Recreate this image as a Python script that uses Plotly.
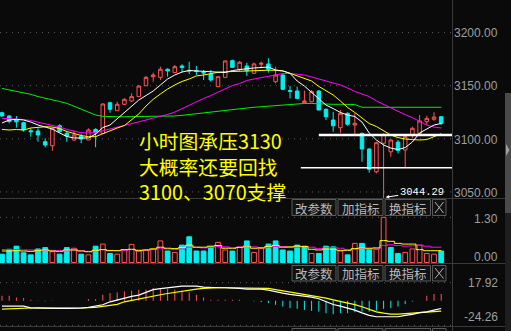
import plotly.graph_objects as go

W, H = 511, 331
BG = "#0a0a0a"
RED = "#ff5454"
CYAN = "#00f0f0"
GRID = "#5e5e5e"
SEP = "#3a3a3a"
LABEL = "#9e9e9e"

# ---------------- data ----------------
opens = [3124.6, 3121.5, 3118.2, 3115.2, 3107.6, 3107.3, 3097.3, 3093.5, 3112.3, 3105.2,
         3098.9, 3102.6, 3098.9, 3108.9, 3105.2, 3134.0, 3126.5, 3132.5, 3135.6, 3139.7,
         3150.0, 3158.5, 3157.9, 3165.5, 3162.3, 3168.6, 3164.5, 3164.1, 3162.6, 3161.0,
         3149.1, 3157.9, 3173.6, 3165.5, 3168.6, 3161.7, 3170.2, 3170.5, 3153.8, 3160.1,
         3145.5, 3145.0, 3134.0, 3134.9, 3145.0, 3127.8, 3117.7, 3110.5, 3124.0, 3113.0,
         3105.2, 3090.4, 3069.0, 3095.8, 3087.8, 3096.9, 3089.5, 3103.6, 3105.2, 3116.1,
         3118.4, 3120.8]
highs = [3125.5, 3122.4, 3121.5, 3116.1, 3109.9, 3109.9, 3100.5, 3110.5, 3113.7, 3107.6,
         3107.6, 3104.5, 3109.9, 3109.9, 3133.4, 3134.9, 3134.9, 3138.1, 3142.9, 3150.7,
         3159.2, 3162.3, 3167.9, 3166.4, 3169.5, 3170.2, 3172.6, 3168.6, 3164.8, 3164.8,
         3158.9, 3173.6, 3174.5, 3173.3, 3171.7, 3171.7, 3172.6, 3175.8, 3167.9, 3161.0,
         3149.7, 3149.1, 3145.3, 3146.0, 3146.0, 3128.7, 3125.5, 3127.1, 3125.0, 3124.0,
         3105.7, 3091.1, 3097.3, 3105.2, 3099.5, 3098.9, 3103.6, 3111.4, 3122.4, 3121.8,
         3125.0, 3121.5]
lows = [3120.8, 3114.6, 3110.5, 3106.7, 3102.0, 3097.3, 3092.0, 3088.8, 3105.7, 3097.3,
        3098.2, 3095.8, 3098.9, 3092.0, 3104.5, 3124.6, 3126.5, 3131.8, 3134.9, 3139.7,
        3149.7, 3153.8, 3155.4, 3158.5, 3162.0, 3162.6, 3161.0, 3160.1, 3155.4, 3153.8,
        3148.6, 3157.9, 3167.0, 3163.9, 3159.2, 3161.0, 3166.4, 3162.3, 3152.3, 3146.0,
        3138.1, 3137.2, 3133.4, 3134.4, 3127.1, 3117.7, 3106.7, 3105.7, 3112.3, 3103.6,
        3078.4, 3068.1, 3067.5, 3044.29, 3083.1, 3086.3, 3073.2, 3100.5, 3103.6, 3113.0,
        3117.0, 3113.0]
closes = [3121.5, 3116.4, 3116.0, 3108.3, 3106.7, 3103.6, 3094.2, 3109.9, 3106.7, 3102.6,
          3103.6, 3099.8, 3108.3, 3105.7, 3132.8, 3127.8, 3132.5, 3137.2, 3139.7, 3149.7,
          3157.9, 3160.1, 3165.5, 3163.9, 3167.9, 3167.2, 3163.9, 3163.4, 3162.0, 3155.4,
          3158.5, 3173.3, 3167.3, 3172.1, 3164.1, 3170.5, 3171.1, 3165.5, 3160.1, 3146.6,
          3144.7, 3138.1, 3135.6, 3144.4, 3127.1, 3120.8, 3112.3, 3124.0, 3113.7, 3114.6,
          3090.4, 3071.3, 3096.3, 3104.2, 3098.9, 3089.1, 3102.0, 3109.9, 3116.8, 3119.3,
          3120.5, 3114.6]

ma_white = [3114.9, 3117.7, 3118.4, 3117.7, 3115.8, 3113.0, 3111.1, 3109.2, 3105.5, 3102.2,
            3100.8, 3100.5, 3100.8, 3104.5, 3110.6, 3113.0, 3118.7, 3124.3, 3130.0, 3136.5,
            3140.8, 3145.0, 3150.7, 3156.3, 3160.1, 3162.9, 3164.3, 3163.9, 3163.6, 3162.9,
            3162.2, 3162.4, 3164.3, 3165.5, 3166.0, 3166.7, 3167.2, 3167.6, 3164.8, 3163.9,
            3161.7, 3154.4, 3149.7, 3143.6, 3137.5, 3131.8, 3128.5, 3124.8, 3122.4, 3121.0,
            3115.8, 3105.5, 3098.9, 3094.2, 3091.3, 3089.9, 3091.8, 3097.0, 3105.5, 3109.2,
            3113.0, 3114.4]
ma_yellow = [3108.9, 3108.3, 3108.8, 3108.3, 3110.2, 3111.1, 3111.4, 3111.1, 3109.7, 3106.9,
             3105.0, 3103.1, 3102.0, 3102.0, 3104.8, 3107.8, 3110.2, 3112.5, 3117.7, 3123.4,
             3130.9, 3137.2, 3142.2, 3146.9, 3150.7, 3154.0, 3156.3, 3159.2, 3160.1, 3161.5,
             3162.6, 3163.1, 3163.4, 3163.9, 3164.1, 3164.5, 3164.6, 3164.6, 3164.5, 3163.9,
             3161.7, 3159.2, 3157.3, 3154.4, 3149.3, 3145.5, 3141.3, 3135.6, 3129.5, 3124.8,
             3119.6, 3114.4, 3111.6, 3107.3, 3103.6, 3101.2, 3099.8, 3099.3, 3098.9, 3099.3,
             3101.7, 3104.8]
ma_magenta = [3119.3, 3119.1, 3118.7, 3118.2, 3117.2, 3115.8, 3114.4, 3113.0, 3111.1, 3108.9,
              3107.3, 3105.7, 3105.7, 3105.7, 3107.6, 3109.2, 3110.6, 3112.5, 3113.9, 3115.8,
              3117.7, 3119.6, 3121.0, 3122.9, 3125.2, 3128.5, 3131.8, 3135.1, 3138.0, 3140.8,
              3144.1, 3146.9, 3150.2, 3152.1, 3154.9, 3156.3, 3157.7, 3159.2, 3160.1, 3161.5,
              3161.5, 3161.0, 3160.1, 3158.2, 3156.3, 3154.9, 3153.0, 3150.7, 3147.8, 3144.6,
              3142.2, 3139.8, 3135.6, 3132.3, 3129.0, 3126.0, 3122.7, 3119.9, 3116.2, 3113.0,
              3111.1, 3110.2]
ma_green = [3147.4, 3146.2, 3145.0, 3143.6, 3141.9, 3139.8, 3138.4, 3136.8, 3135.1, 3133.4,
            3130.6, 3127.8, 3125.0, 3122.4, 3121.2, 3120.8, 3120.8, 3120.8, 3120.8, 3120.8,
            3120.8, 3120.8, 3120.8, 3120.8, 3121.5, 3122.1, 3122.9, 3123.6, 3124.3, 3125.2,
            3126.2, 3127.1, 3128.1, 3128.4, 3129.0, 3129.7, 3130.3, 3130.9, 3131.4, 3131.8,
            3132.3, 3132.8, 3133.3, 3133.3, 3132.8, 3132.8, 3132.5, 3132.5, 3132.5, 3132.3,
            3129.7, 3129.7, 3129.7, 3129.7, 3129.7, 3129.7, 3129.7, 3129.7, 3129.7, 3129.7,
            3129.7, 3129.7]

volumes = [0.24, 0.38, 0.47, 0.28, 0.22, 0.39, 0.43, 0.31, 0.24, 0.43,
           0.41, 0.24, 0.22, 0.47, 0.53, 0.26, 0.24, 0.36, 0.52, 0.33,
           0.36, 0.39, 0.62, 0.33, 0.29, 0.50, 0.74, 0.33, 0.33, 0.45,
           0.58, 0.36, 0.33, 0.45, 0.62, 0.29, 0.41, 0.53, 0.62, 0.36,
           0.33, 0.50, 0.47, 0.26, 0.26, 0.47, 0.45, 0.33, 0.22, 0.55,
           0.55, 0.38, 0.38, 1.30, 0.43, 0.26, 0.29, 0.39, 0.50, 0.26,
           0.24, 0.33]
vol_ma_yellow = [0.33, 0.33, 0.34, 0.33, 0.32, 0.35, 0.36, 0.33, 0.32, 0.36,
                 0.36, 0.33, 0.31, 0.35, 0.37, 0.34, 0.34, 0.37, 0.38, 0.34,
                 0.36, 0.39, 0.44, 0.41, 0.40, 0.43, 0.50, 0.44, 0.44, 0.47,
                 0.49, 0.41, 0.41, 0.43, 0.47, 0.41, 0.42, 0.46, 0.49, 0.44,
                 0.45, 0.47, 0.46, 0.38, 0.36, 0.39, 0.38, 0.35, 0.35, 0.40,
                 0.42, 0.41, 0.42, 0.63, 0.61, 0.55, 0.53, 0.53, 0.37, 0.34,
                 0.34, 0.34]
vol_ma_magenta = [0.37, 0.37, 0.37, 0.36, 0.36, 0.36, 0.35, 0.35, 0.34, 0.34,
                  0.36, 0.34, 0.32, 0.34, 0.37, 0.35, 0.34, 0.34, 0.37, 0.36,
                  0.35, 0.37, 0.41, 0.39, 0.37, 0.39, 0.44, 0.44, 0.42, 0.43,
                  0.46, 0.45, 0.42, 0.44, 0.47, 0.45, 0.42, 0.44, 0.46, 0.46,
                  0.43, 0.44, 0.46, 0.44, 0.40, 0.42, 0.43, 0.41, 0.37, 0.38,
                  0.41, 0.39, 0.39, 0.49, 0.51, 0.49, 0.47, 0.48, 0.50, 0.47,
                  0.44, 0.44]

dif = [-5.3, -5.3, -5.3, -5.3, -7.0, -7.3, -7.3, -7.3, -7.6, -7.6,
       -7.6, -7.3, -6.6, -5.3, -3.9, -1.0, 1.0, 2.6, 4.3, 5.6,
       8.6, 11.0, 12.0, 13.0, 13.9, 14.5, 14.5, 14.5, 13.5, 12.9,
       12.9, 12.9, 12.9, 12.2, 11.6, 11.6, 11.6, 10.6, 8.9, 7.5,
       6.4, 5.6, 4.6, 3.6, 2.0, -0.5, -3.7, -5.3, -7.3, -9.2,
       -12.0, -14.5, -15.8, -15.8, -15.8, -15.8, -14.5, -13.5, -11.7, -10.9,
       -9.2, -7.6]
dea = [-8.3, -8.0, -7.6, -7.3, -6.9, -6.9, -7.3, -7.3, -7.6, -7.6,
       -7.6, -7.3, -6.9, -6.5, -5.3, -4.4, -3.6, -1.0, 0.5, 1.8,
       3.3, 4.6, 6.0, 7.2, 8.4, 9.6, 10.6, 11.6, 12.2, 12.9,
       12.9, 12.9, 12.9, 12.9, 12.9, 12.9, 12.5, 12.2, 11.0, 9.8,
       8.8, 7.6, 6.6, 5.4, 4.2, 2.6, 0.9, -0.6, -2.2, -3.8,
       -5.9, -8.4, -10.9, -12.2, -13.2, -13.2, -12.8, -12.5, -12.0, -11.5,
       -10.9, -10.2]
macd_hist = [5.0, 5.0, 3.3, 2.7, 1.0, 0.3, -0.5, 0.3, 0.0, 0.0,
             0.0, 0.0, 1.7, 1.7, 6.0, 7.7, 8.3, 9.3, 10.0, 11.0,
             11.0, 12.7, 12.7, 11.7, 11.0, 10.0, 8.3, 6.0, 3.3, 1.0,
             1.0, 1.0, 1.0, 1.0, 0.0, -0.5, -1.3, -2.3, -4.0, -5.7,
             -7.3, -8.0, -9.0, -10.0, -10.7, -12.3, -13.3, -12.3, -12.3, -11.3,
             -10.7, -10.7, -9.7, -8.0, -7.3, -5.7, -3.3, -0.7, 0.0, 5.0,
             6.7, 6.7]

price_ticks = [3200.00, 3150.00, 3100.00, 3050.00]
vol_ticks = [1.30, 0.00]
macd_ticks = [17.92, -24.26]
support_levels = [3103.6, 3072.7]
support_start = [44.0, 41.5]
notes = ["小时图承压3130", "大概率还要回找", "3100、3070支撑"]
buttons = ["改参数", "加指标", "换指标"]

# ---------------- helpers ----------------
n = len(closes)
idx = list(range(n))


def px(v):
    return v / W


def py(v):
    return 1 - v / H


PLOT_R = 452
STEP = 7.2
X0 = -2 / STEP
X_RANGE = [X0, X0 + PLOT_R / STEP]
X_END = X0 + 457 / STEP

fig = go.Figure()

# candles
fig.add_trace(go.Candlestick(
    x=idx, open=opens, high=highs, low=lows, close=closes,
    increasing=dict(line=dict(color=RED, width=1), fillcolor=BG),
    decreasing=dict(line=dict(color=CYAN, width=1), fillcolor=CYAN),
    whiskerwidth=0, hoverinfo="skip", xaxis="x", yaxis="y"))

for series, col in [(ma_green, "#00ee00"), (ma_magenta, "#ff00ff"),
                    (ma_yellow, "#ffff00"), (ma_white, "#ffffff")]:
    fig.add_trace(go.Scatter(x=idx, y=series, mode="lines",
                             line=dict(color=col, width=1), hoverinfo="skip",
                             xaxis="x", yaxis="y"))

# volume
up = [closes[0] > opens[0]] + [closes[i] > closes[i - 1] for i in range(1, n)]
fig.add_trace(go.Bar(
    x=idx, y=volumes, width=0.66,
    marker=dict(color=[BG if u else CYAN for u in up],
                line=dict(color=[RED if u else CYAN for u in up], width=1)),
    hoverinfo="skip", xaxis="x2", yaxis="y2"))
fig.add_trace(go.Scatter(x=idx, y=vol_ma_magenta, mode="lines", line=dict(color="#ff00ff", width=1, shape="hvh"),
                         hoverinfo="skip", xaxis="x2", yaxis="y2"))
fig.add_trace(go.Scatter(x=idx, y=vol_ma_yellow, mode="lines", line=dict(color="#ffff00", width=1, shape="hvh"),
                         hoverinfo="skip", xaxis="x2", yaxis="y2"))

# MACD
for sign, col in [(1, RED), (-1, CYAN)]:
    xs, ys = [], []
    for i, v in enumerate(macd_hist):
        if v * sign > 0:
            xs += [i, i, None]
            ys += [0, v, None]
    fig.add_trace(go.Scatter(x=xs, y=ys, mode="lines", line=dict(color=col, width=1),
                             hoverinfo="skip", xaxis="x3", yaxis="y3"))
fig.add_trace(go.Scatter(x=idx, y=dea, mode="lines", line=dict(color="#ffff00", width=1.2),
                         hoverinfo="skip", xaxis="x3", yaxis="y3"))
fig.add_trace(go.Scatter(x=idx, y=dif, mode="lines", line=dict(color="#ffffff", width=1.2),
                         hoverinfo="skip", xaxis="x3", yaxis="y3"))

shapes = []
annotations = []

# grid lines
for p in price_ticks:
    shapes.append(dict(type="line", xref="paper", yref="y", x0=0, x1=px(455), y0=p, y1=p,
                       line=dict(color=GRID, width=1, dash="1px,5px"), layer="below"))
shapes.append(dict(type="line", xref="paper", yref="y2", x0=0, x1=px(455), y0=vol_ticks[0], y1=vol_ticks[0],
                   line=dict(color=GRID, width=1, dash="1px,5px"), layer="below"))
for p in macd_ticks:
    shapes.append(dict(type="line", xref="paper", yref="y3", x0=0, x1=px(455), y0=p, y1=p,
                       line=dict(color=GRID, width=1, dash="1px,5px"), layer="below"))

# separators
for yy in [198.5, 263.5, 326.5]:
    shapes.append(dict(type="line", xref="paper", yref="paper", x0=0, x1=px(505), y0=py(yy), y1=py(yy),
                       line=dict(color=SEP, width=1)))
shapes.append(dict(type="line", xref="paper", yref="paper", x0=px(452.5), x1=px(452.5), y0=0, y1=1,
                   line=dict(color=SEP, width=1)))

# scrollbar
shapes.append(dict(type="rect", xref="paper", yref="paper", x0=px(505), x1=1, y0=0, y1=py(213),
                   fillcolor="#1e1e1e", line=dict(width=0)))
shapes.append(dict(type="rect", xref="paper", yref="paper", x0=px(505), x1=1, y0=py(213), y1=py(93),
                   fillcolor="#4a4a4a", line=dict(width=0)))
shapes.append(dict(type="path", xref="paper", yref="paper",
                   path=f"M {px(506)} {py(144)} L {px(509.5)} {py(150)} L {px(506)} {py(156)} Z",
                   fillcolor="#a0a0a0", line=dict(width=0)))

# support lines
shapes.append(dict(type="line", xref="x", yref="y", x0=support_start[0], x1=X_END,
                   y0=support_levels[0], y1=support_levels[0], line=dict(color="#ffffff", width=2.5)))
shapes.append(dict(type="line", xref="x", yref="y", x0=support_start[1], x1=X_END,
                   y0=support_levels[1], y1=support_levels[1], line=dict(color="#ffffff", width=1.5)))

# buttons (third row only shows its top edge at the bottom of the window)
bx = [(292, 336), (338, 383), (385, 430.5), (432.5, 446)]
for row, (yt, yb) in enumerate([(199.5, 215.5), (265.5, 281), (328.5, 345)]):
    for k, (xl, xr) in enumerate(bx):
        shapes.append(dict(type="rect", xref="paper", yref="paper", x0=px(xl), x1=px(xr),
                           y0=py(yb), y1=py(yt), fillcolor="#121212",
                           line=dict(color="#5a5a5a", width=1)))
        if row == 2:
            continue
        if k < 3:
            annotations.append(dict(xref="paper", yref="paper", x=px((xl + xr) / 2), y=py((yt + yb) / 2 + 0.5),
                                    text=buttons[k], showarrow=False, xanchor="center", yanchor="middle",
                                    font=dict(family="Noto Sans CJK SC", size=12.5, color="#b8b8b8")))
        else:
            for (a, b, c, d) in [(xl + 2.5, yt + 2.5, xr - 2.5, yb - 2.5), (xl + 2.5, yb - 2.5, xr - 2.5, yt + 2.5)]:
                shapes.append(dict(type="line", xref="paper", yref="paper", x0=px(a), y0=py(b),
                                   x1=px(c), y1=py(d), line=dict(color="#b0b0b0", width=1)))

# axis labels
lab_font = dict(family="Liberation Sans", size=12, color=LABEL)
for p in price_ticks:
    annotations.append(dict(xref="paper", yref="y", x=px(500), y=p, yshift=-0.7, text=f"{p:.2f}",
                            showarrow=False, xanchor="right", yanchor="middle", font=lab_font))
for p, sh in zip(vol_ticks, [-2, 5.5]):
    annotations.append(dict(xref="paper", yref="y2", x=px(500), y=p, yshift=sh, text=f"{p:.2f}",
                            showarrow=False, xanchor="right", yanchor="middle", font=lab_font))
for p, sh in zip(macd_ticks, [-0.6, 8]):
    annotations.append(dict(xref="paper", yref="y3", x=px(500), y=p, yshift=sh, text=f"{p:.2f}",
                            showarrow=False, xanchor="right", yanchor="middle", font=lab_font))

# notes (one block, three lines)
annotations.append(dict(xref="paper", yref="paper", x=px(137), y=py(165.5), text="<br>".join(notes),
                        showarrow=False, xanchor="left", yanchor="middle", align="left",
                        font=dict(family="Noto Sans CJK SC", size=19.8, color="#ffff00")))

# lowest point marker
low_i = min(range(n), key=lambda i: lows[i])
annotations.append(dict(xref="x", yref="y", x=low_i + 0.3, y=lows[low_i] + 0.8, text=f"{lows[low_i]:.2f}",
                        showarrow=True, arrowhead=2, arrowsize=0.7, arrowwidth=1, arrowcolor="#ffffff",
                        ax=36, ay=-5, xanchor="center", yanchor="middle",
                        font=dict(family="Liberation Mono", size=10.5, color="#ffffff")))

axis_common = dict(range=X_RANGE, visible=False, fixedrange=True)
fig.update_layout(
    width=W, height=H, margin=dict(l=0, r=0, t=0, b=0),
    paper_bgcolor=BG, plot_bgcolor=BG, showlegend=False,
    xaxis=dict(domain=[0, px(PLOT_R)], anchor="y", rangeslider=dict(visible=False), **axis_common),
    xaxis2=dict(domain=[0, px(PLOT_R)], anchor="y2", **axis_common),
    xaxis3=dict(domain=[0, px(PLOT_R)], anchor="y3", **axis_common),
    yaxis=dict(domain=[py(198), 1], range=[3044.29, 3230.7], visible=False, fixedrange=True),
    yaxis2=dict(domain=[py(263), py(198)], range=[-0.0144, 1.855], visible=False, fixedrange=True),
    yaxis3=dict(domain=[py(326), py(263)], range=[-24.95, 37.4], visible=False, fixedrange=True),
    shapes=shapes, annotations=annotations,
)

fig.write_html("out.html")
